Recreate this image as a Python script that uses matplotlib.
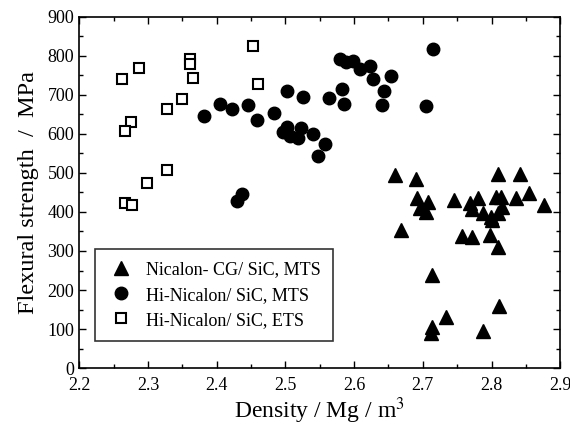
import numpy as np
import matplotlib
matplotlib.use("Agg")
import matplotlib.pyplot as plt
from matplotlib.ticker import MultipleLocator

plt.rcParams['font.family'] = ['Liberation Serif', 'DejaVu Serif']
plt.rcParams['mathtext.fontset'] = 'stix'

# Nicalon-CG/SiC, MTS (triangles)
cg_x = [2.660, 2.690, 2.692, 2.707, 2.696, 2.705, 2.668, 2.746, 2.768, 2.772,
        2.780, 2.788, 2.799, 2.800, 2.806, 2.814, 2.815, 2.809, 2.835, 2.854,
        2.876, 2.809, 2.841, 2.757, 2.771, 2.797, 2.809, 2.713, 2.811, 2.734,
        2.713, 2.712, 2.787]
cg_y = [496, 485, 437, 426, 409, 401, 354, 432, 422, 407,
        435, 397, 388, 379, 439, 439, 414, 397, 437, 448,
        418, 497, 497, 338, 335, 341, 309, 238, 159, 130,
        106, 90, 96]

# Hi-Nicalon/SiC, MTS (filled circles)
hm_x = [2.382, 2.405, 2.422, 2.445, 2.458, 2.483, 2.503, 2.525, 2.579, 2.588,
        2.599, 2.608, 2.623, 2.627, 2.653, 2.644, 2.641, 2.583, 2.585, 2.564,
        2.715, 2.705, 2.497, 2.503, 2.506, 2.518, 2.522, 2.540, 2.558, 2.548,
        2.437, 2.430]
hm_y = [647, 677, 665, 675, 636, 653, 711, 695, 791, 785,
        788, 767, 773, 742, 749, 711, 674, 715, 677, 691,
        817, 672, 605, 619, 595, 590, 616, 601, 574, 544,
        445, 427]

# Hi-Nicalon/SiC, ETS (open squares)
he_x = [2.262, 2.287, 2.361, 2.361, 2.365, 2.350, 2.328, 2.276, 2.267, 2.453,
        2.460, 2.328, 2.298, 2.266, 2.277]
he_y = [740, 769, 791, 779, 744, 690, 664, 631, 608, 826,
        727, 508, 474, 424, 418]

fig = plt.figure(figsize=(5.7, 4.34), dpi=100)
ax = fig.add_axes([0.139, 0.152, 0.844, 0.809])

ax.plot(cg_x, cg_y, '^', color='black', ms=10.5, ls='none',
        label='Nicalon- CG/ SiC, MTS')
ax.plot(hm_x, hm_y, 'o', color='black', ms=9, ls='none',
        label='Hi-Nicalon/ SiC, MTS')
ax.plot(he_x, he_y, 's', mfc='white', mec='black', mew=1.5, ms=7.5, ls='none',
        label='Hi-Nicalon/ SiC, ETS')

ax.set_xlim(2.2, 2.9)
ax.set_ylim(0, 900)
ax.xaxis.set_major_locator(MultipleLocator(0.1))
ax.xaxis.set_minor_locator(MultipleLocator(0.05))
ax.yaxis.set_major_locator(MultipleLocator(100))
ax.yaxis.set_minor_locator(MultipleLocator(50))
ax.tick_params(which='both', direction='in', top=True, right=True, labelsize=13)
ax.tick_params(which='major', length=5, width=1)
ax.tick_params(which='minor', length=3, width=1)
ax.tick_params(axis='x', pad=6.5)
for s in ax.spines.values():
    s.set_linewidth(1.2)

ax.set_xlabel('Density / Mg / m$^3$', fontsize=17, labelpad=1)
ax.set_ylabel('Flexural strength  /  MPa', fontsize=17.5, labelpad=6)

leg = ax.legend(loc='lower left', bbox_to_anchor=(0.014, 0.05), fontsize=13,
                frameon=True, fancybox=False, edgecolor='black', borderpad=0.7,
                handletextpad=0.6, labelspacing=0.45, handlelength=1.5)
leg.get_frame().set_linewidth(1.2)

fig.savefig('out.png', dpi=100)
